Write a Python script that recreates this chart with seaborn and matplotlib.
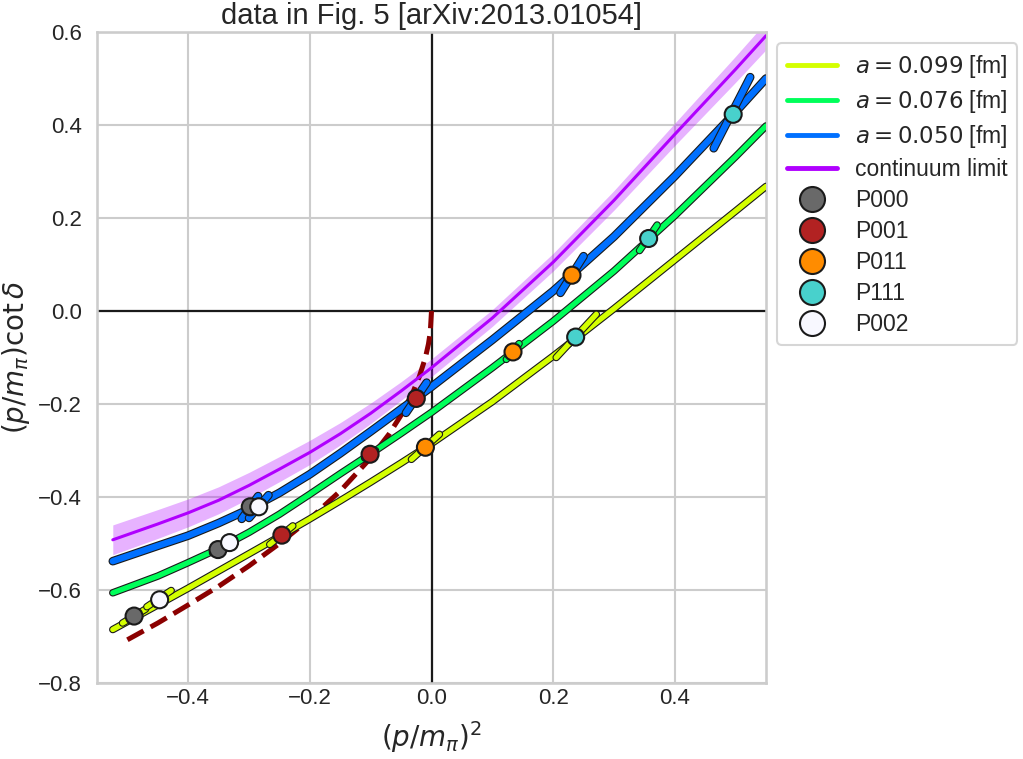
import numpy as np
import pandas as pd
import matplotlib
matplotlib.use('Agg')
import matplotlib.pyplot as plt
import matplotlib.patheffects as pe
from matplotlib.lines import Line2D
import seaborn as sns

# fitted curves
x_curve = [-0.524, -0.45, -0.4, -0.35, -0.3, -0.25, -0.2, -0.15, -0.1, -0.05, 0.0,
           0.1, 0.2, 0.3, 0.4, 0.5, 0.55]
y_a099 = [-0.685, -0.632, -0.596, -0.559, -0.522, -0.485, -0.447, -0.408, -0.368, -0.327, -0.285,
          -0.195, -0.097, 0.005, 0.110, 0.215, 0.268]
y_a076 = [-0.606, -0.570, -0.541, -0.511, -0.476, -0.437, -0.394, -0.350, -0.307, -0.263, -0.218,
          -0.122, -0.022, 0.086, 0.205, 0.332, 0.398]
y_a050 = [-0.538, -0.505, -0.483, -0.456, -0.426, -0.391, -0.351, -0.306, -0.259, -0.211, -0.163,
          -0.062, 0.043, 0.160, 0.290, 0.428, 0.500]
y_cont = [-0.492, -0.458, -0.434, -0.407, -0.375, -0.340, -0.304, -0.264, -0.220, -0.172, -0.122,
          -0.015, 0.105, 0.238, 0.380, 0.520, 0.592]
err_cont = [0.032, 0.031, 0.030, 0.029, 0.028, 0.027, 0.026, 0.024, 0.022, 0.020, 0.019,
            0.018, 0.019, 0.021, 0.024, 0.028, 0.030]

# dashed bound state line
x_bound = [-0.5, -0.45, -0.4, -0.35, -0.3, -0.25, -0.2, -0.15, -0.1, -0.07, -0.05, -0.03,
           -0.02, -0.01, -0.005, -0.002, 0.0]
y_bound = [-0.707, -0.671, -0.632, -0.592, -0.548, -0.500, -0.447, -0.387, -0.316, -0.265,
           -0.224, -0.173, -0.141, -0.100, -0.071, -0.045, 0.0]

# lattice points, with the ends of their error segments
pt_lat = ['a099'] * 5 + ['a076'] * 5 + ['a050'] * 5
pt_frame = ['P000', 'P002', 'P001', 'P011', 'P111'] * 3
pt_x = [-0.489, -0.447, -0.246, -0.010, 0.237,
        -0.351, -0.332, -0.101, 0.134, 0.357,
        -0.298, -0.284, -0.025, 0.231, 0.496]
pt_y = [-0.656, -0.621, -0.482, -0.293, -0.056,
        -0.513, -0.498, -0.308, -0.088, 0.156,
        -0.421, -0.421, -0.188, 0.077, 0.423]
lo_x = [-0.508, -0.468, -0.266, -0.033, 0.205,
        -0.360, -0.340, -0.110, 0.123, 0.342,
        -0.312, -0.300, -0.042, 0.212, 0.464]
lo_y = [-0.671, -0.636, -0.502, -0.319, -0.100,
        -0.520, -0.504, -0.316, -0.104, 0.130,
        -0.447, -0.445, -0.219, 0.039, 0.350]
hi_x = [-0.470, -0.428, -0.228, 0.013, 0.271,
        -0.342, -0.324, -0.092, 0.144, 0.371,
        -0.285, -0.268, -0.008, 0.250, 0.524]
hi_y = [-0.641, -0.601, -0.462, -0.265, -0.007,
        -0.506, -0.492, -0.300, -0.070, 0.185,
        -0.398, -0.396, -0.154, 0.118, 0.503]

lat_labels = {'a099': r'$a=0.099$ [fm]', 'a076': r'$a=0.076$ [fm]', 'a050': r'$a=0.050$ [fm]'}
lat_colors = {'a099': '#d4ff00', 'a076': '#00ff5a', 'a050': '#0070ff'}
lat_lw = {'a099': 3.8, 'a076': 3.8, 'a050': 4.6}
cont_color = '#b000ff'
frames = ['P000', 'P001', 'P011', 'P111', 'P002']
frame_colors = {'P000': 'dimgray', 'P001': 'firebrick', 'P011': 'darkorange',
                'P111': 'mediumturquoise', 'P002': 'ghostwhite'}

curves = pd.DataFrame({'x': x_curve, 'a099': y_a099, 'a076': y_a076, 'a050': y_a050,
                       'cont': y_cont, 'err': err_cont})
points = pd.DataFrame({'lat': pt_lat, 'frame': pt_frame, 'x': pt_x, 'y': pt_y,
                       'lo_x': lo_x, 'lo_y': lo_y, 'hi_x': hi_x, 'hi_y': hi_y})

sns.set_theme(style='whitegrid', context='talk')
plt.rcParams['font.family'] = ['Liberation Sans', 'DejaVu Sans']

fig = plt.figure(figsize=(10.23, 7.59), dpi=100)
ax = fig.add_axes([0.0948, 0.1001, 0.654, 0.8577])

ax.axhline(0, color='k', lw=1.6, zorder=1)
ax.axvline(0, color='k', lw=1.6, zorder=1)

# continuum limit with band
ax.fill_between(curves.x, curves.cont - curves.err, curves.cont + curves.err,
                color=cont_color, alpha=0.3, lw=0, zorder=2)
sns.lineplot(data=curves, x='x', y='cont', ax=ax, color=cont_color, lw=2.2,
             estimator=None, sort=False, legend=False, zorder=3)

sns.lineplot(x=x_bound, y=y_bound, ax=ax, color='darkred', lw=3.6, ls='--',
             estimator=None, sort=False, legend=False, zorder=2.5)

for lat in ['a099', 'a076', 'a050']:
    lw = lat_lw[lat]
    outline = [pe.Stroke(linewidth=lw + 1.6, foreground='k'), pe.Normal()]
    sns.lineplot(data=curves, x='x', y=lat, ax=ax, color=lat_colors[lat], lw=lw,
                 estimator=None, sort=False, legend=False, zorder=4,
                 path_effects=outline, solid_capstyle='round', solid_joinstyle='round')
    sub = points[points.lat == lat]
    for _, r in sub.iterrows():
        ax.plot([r.lo_x, r.hi_x], [r.lo_y, r.hi_y], color=lat_colors[lat], lw=lw,
                solid_capstyle='round', path_effects=outline, zorder=5)
    sns.scatterplot(data=sub, x='x', y='y', hue='frame', palette=frame_colors, s=150,
                    edgecolor='k', linewidth=1.5, ax=ax, legend=False, zorder=6)

ax.set_xlim(-0.55, 0.55)
ax.set_ylim(-0.8, 0.6)
ax.set_xticks([-0.4, -0.2, 0.0, 0.2, 0.4])
ax.set_yticks(np.arange(-0.8, 0.61, 0.2))
ax.tick_params(labelsize=16, length=0)
ax.tick_params(axis='x', pad=3.5)
ax.tick_params(axis='y', pad=11)
ax.set_xlabel(r'$(p/m_\pi)^2$', fontsize=20, labelpad=7)
ax.set_ylabel(r'$(p/m_\pi)\cot\delta$', fontsize=20)
ax.set_title('data in Fig. 5 [arXiv:2013.01054]', fontsize=21)

handles = [Line2D([], [], color=lat_colors[k], lw=3.5, label=lat_labels[k])
           for k in ['a099', 'a076', 'a050']]
handles.append(Line2D([], [], color=cont_color, lw=3.5, label='continuum limit'))
for f in frames:
    handles.append(Line2D([], [], ls='', marker='o', markersize=18, mfc=frame_colors[f],
                          mec='k', mew=1.5, label=f))
ax.legend(handles=handles, loc='upper left', bbox_to_anchor=(1.0, 1.0),
          fontsize=16.5, handlelength=2.2, labelspacing=0.35)

fig.savefig('out.png', dpi=100)
